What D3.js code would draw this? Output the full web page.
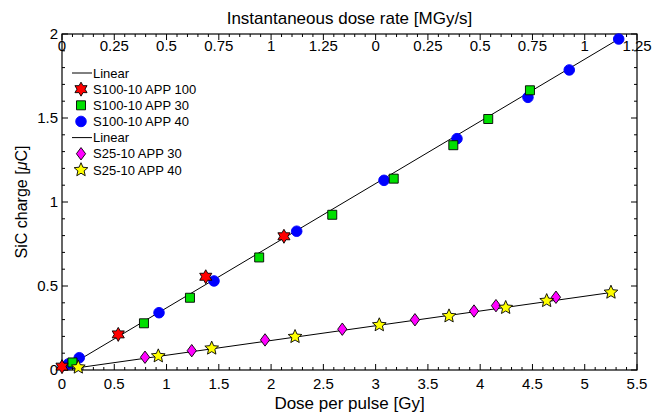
<!DOCTYPE html>
<html><head><meta charset="utf-8">
<script src="https://cdn.jsdelivr.net/npm/d3@7"></script>
<style>
html,body{margin:0;padding:0;background:#fff;}
text{font-family:"Liberation Sans",Arial,Helvetica,sans-serif;fill:#000;}
</style></head>
<body>
<svg id="chart" width="653" height="414"></svg>
<script>
// ---- data ----
const s100_app100_x = [0.0, 0.538, 1.375, 2.123];
const s100_app100_y = [0.02, 0.212, 0.555, 0.796];
const s100_app30_x = [0.10, 0.784, 1.224, 1.886, 2.585, 3.173, 3.743, 4.077, 4.476];
const s100_app30_y = [0.045, 0.278, 0.430, 0.670, 0.924, 1.139, 1.338, 1.494, 1.665];
const s100_app40_x = [0.06, 0.165, 0.928, 1.454, 2.245, 3.080, 3.778, 4.457, 4.852, 5.325];
const s100_app40_y = [0.036, 0.073, 0.341, 0.530, 0.826, 1.129, 1.377, 1.623, 1.786, 1.970];
const s25_app30_x = [0.794, 1.241, 1.942, 2.681, 3.376, 3.941, 4.151, 4.725];
const s25_app30_y = [0.076, 0.115, 0.179, 0.243, 0.299, 0.351, 0.383, 0.433];
const s25_app40_x = [0.156, 0.921, 1.432, 2.229, 3.035, 3.702, 4.244, 4.636, 5.251];
const s25_app40_y = [0.016, 0.083, 0.129, 0.198, 0.268, 0.321, 0.371, 0.412, 0.462];
const fit1_x = [0, 5.33];
const fit1_y = [0, 1.972];
const fit2_x = [0, 5.25];
const fit2_y = [0, 0.461];
const xTicks = [0,0.5,1,1.5,2,2.5,3,3.5,4,4.5,5,5.5];
const yTicks = [0,0.5,1,1.5,2];
const topTickLabels = ["0","0.25","0.5","0.75","1","1.25","0","0.25","0.5","0.75","1","1.25"];
const legendLabels = ["Linear","S100-10 APP 100","S100-10 APP 30","S100-10 APP 40","Linear","S25-10 APP 30","S25-10 APP 40"];

// ---- layout ----
const W = 653, H = 414;
const m = {l:62, r:16, t:34, b:44};
const svg = d3.select("#chart");
const x = d3.scaleLinear().domain([0,5.5]).range([m.l, W-m.r]);
const y = d3.scaleLinear().domain([0,2]).range([H-m.b, m.t]);
const xTop = d3.scaleLinear().domain([0, (topTickLabels.length-1)*0.25]).range([m.l, W-m.r]);

const tickFont = 15, titleFont = 17;

// frame
svg.append("rect").attr("x",m.l).attr("y",m.t).attr("width",W-m.l-m.r).attr("height",H-m.t-m.b)
  .attr("fill","none").attr("stroke","#000").attr("stroke-width",1.2);

const g = svg.append("g").attr("stroke","#000").attr("stroke-width",1);
// bottom & top (x) minor/major ticks
d3.range(0, 56).forEach(i => {
  const v = i*0.1, px = x(v), major = i%5===0;
  const L = major?6:3;
  g.append("line").attr("x1",px).attr("x2",px).attr("y1",y(0)).attr("y2",y(0)-L);
});
d3.range(0, 56).forEach(i => {
  const v = i*0.05, px = xTop(v), major = i%5===0;
  const L = major?6:3;
  g.append("line").attr("x1",px).attr("x2",px).attr("y1",y(2)).attr("y2",y(2)+L);
});
// left & right ticks
d3.range(0, 21).forEach(i => {
  const v = i*0.1, py = y(v), major = i%5===0;
  const L = major?6:3;
  g.append("line").attr("x1",x(0)).attr("x2",x(0)+L).attr("y1",py).attr("y2",py);
  g.append("line").attr("x1",x(5.5)).attr("x2",x(5.5)-L).attr("y1",py).attr("y2",py);
});

// tick labels
svg.append("g").selectAll("text").data(xTicks).join("text")
  .attr("x",d=>x(d)).attr("y",y(0)+19).attr("text-anchor","middle").attr("font-size",tickFont)
  .text(d=>d3.format("~g")(d));
svg.append("g").selectAll("text").data(topTickLabels).join("text")
  .attr("x",(d,i)=>xTop(i*0.25)).attr("y",y(2)+17).attr("text-anchor","middle").attr("font-size",tickFont)
  .text(d=>d);
svg.append("g").selectAll("text").data(yTicks).join("text")
  .attr("x",x(0)-4).attr("y",d=>y(d)+5).attr("text-anchor","end").attr("font-size",tickFont)
  .text(d=>d3.format("~g")(d));

// titles
svg.append("text").attr("x",(m.l+W-m.r)/2).attr("y",H-5).attr("text-anchor","middle")
  .attr("font-size",titleFont).text("Dose per pulse [Gy]");
svg.append("text").attr("x",(m.l+W-m.r)/2).attr("y",24).attr("text-anchor","middle")
  .attr("font-size",titleFont).text("Instantaneous dose rate [MGy/s]");
const yt = svg.append("text").attr("transform",`translate(27,${(m.t+H-m.b)/2}) rotate(-90)`)
  .attr("text-anchor","middle").attr("font-size",16);
yt.append("tspan").text("SiC charge [");
yt.append("tspan").attr("font-style","italic").text("\u03bc");
yt.append("tspan").text("C]");

// fit lines
const line = d3.line().x(d=>x(d[0])).y(d=>y(d[1]));
svg.append("path").attr("d", line(d3.zip(fit1_x, fit1_y))).attr("stroke","#000").attr("fill","none").attr("stroke-width",1);
svg.append("path").attr("d", line(d3.zip(fit2_x, fit2_y))).attr("stroke","#000").attr("fill","none").attr("stroke-width",1);

// marker shapes
function starPath(n, R, r){
  let p = [];
  for(let i=0;i<2*n;i++){
    const a = -Math.PI/2 + i*Math.PI/n;
    const rr = i%2===0?R:r;
    p.push([rr*Math.cos(a), rr*Math.sin(a)]);
  }
  return "M"+p.map(q=>q[0].toFixed(2)+","+q[1].toFixed(2)).join("L")+"Z";
}
const shapes = {
  hex: starPath(6, 7, 4.0),
  star: starPath(5, 7.2, 3.3),
  square: "M-4.5,-4.5L4.5,-4.5L4.5,4.5L-4.5,4.5Z",
  diamond: "M0,-6.2L4.6,0L0,6.2L-4.6,0Z",
  circle: d3.symbol(d3.symbolCircle, Math.PI*5.3*5.3)()
};
const series = [
  {xs:s100_app40_x, ys:s100_app40_y, shape:"circle", fill:"#0000ff", stroke:"#0000ff"},
  {xs:s100_app30_x, ys:s100_app30_y, shape:"square", fill:"#00e000", stroke:"#000"},
  {xs:s100_app100_x, ys:s100_app100_y, shape:"hex", fill:"#ff0000", stroke:"#000"},
  {xs:s25_app30_x, ys:s25_app30_y, shape:"diamond", fill:"#ff00ff", stroke:"#000"},
  {xs:s25_app40_x, ys:s25_app40_y, shape:"star", fill:"#ffff00", stroke:"#000"}
];
series.forEach(s=>{
  svg.append("g").selectAll("path").data(d3.zip(s.xs, s.ys)).join("path")
    .attr("d", shapes[s.shape]).attr("transform", d=>`translate(${x(d[0])},${y(d[1])})`)
    .attr("fill", s.fill).attr("stroke", s.stroke).attr("stroke-width",0.9);
});

// legend
const legKinds = [
  {type:"line"},
  {shape:"hex", fill:"#ff0000", stroke:"#000"},
  {shape:"square", fill:"#00e000", stroke:"#000"},
  {shape:"circle", fill:"#0000ff", stroke:"#0000ff"},
  {type:"line"},
  {shape:"diamond", fill:"#ff00ff", stroke:"#000"},
  {shape:"star", fill:"#ffff00", stroke:"#000"}
];
const lg = svg.append("g");
legendLabels.forEach((lab,i)=>{
  const cy = 73 + i*16.15;
  const k = legKinds[i];
  if(k.type==="line"){
    lg.append("line").attr("x1",72).attr("x2",92).attr("y1",cy).attr("y2",cy).attr("stroke","#000").attr("stroke-width",1);
  } else {
    lg.append("path").attr("d",shapes[k.shape]).attr("transform",`translate(81,${cy})`)
      .attr("fill",k.fill).attr("stroke",k.stroke).attr("stroke-width",0.9);
  }
  lg.append("text").attr("x",93).attr("y",cy+4.6).attr("font-size",13).text(lab);
});
</script>
</body></html>
